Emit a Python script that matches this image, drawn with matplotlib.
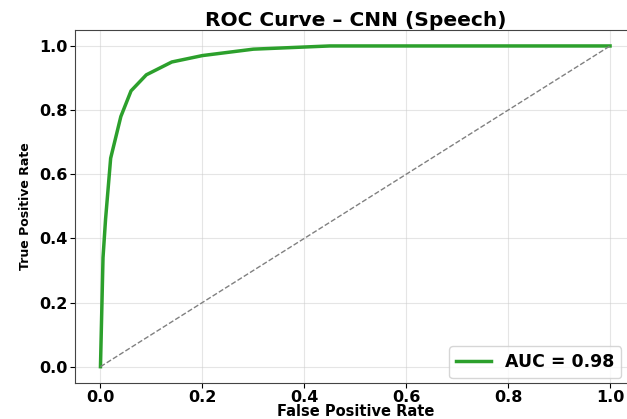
import numpy as np
import matplotlib
matplotlib.use('Agg')
import matplotlib.pyplot as plt

# ROC curve points
fpr = [0.0, 0.005, 0.01, 0.02, 0.04, 0.06, 0.09, 0.14, 0.20, 0.30, 0.45, 1.0]
tpr = [0.0, 0.34, 0.46, 0.65, 0.78, 0.86, 0.91, 0.95, 0.97, 0.99, 1.0, 1.0]
auc_label = 'AUC = 0.98'
ticks = [0.0, 0.2, 0.4, 0.6, 0.8, 1.0]

plt.rcParams['font.family'] = 'DejaVu Sans'
plt.rcParams['font.weight'] = 'bold'

fig = plt.figure(figsize=(6.27, 4.19), dpi=100)
ax = fig.add_axes([0.1196, 0.0866, 0.894, 0.842])

ax.plot(fpr, tpr, color='#2ca02c', lw=2.5, label=auc_label)
ax.plot([0, 1], [0, 1], color='gray', lw=1, ls='--')

ax.set_xlim(-0.05, 1.05)
ax.set_ylim(-0.05, 1.05)
ax.set_xticks(ticks)
ax.set_yticks(ticks)
ax.tick_params(labelsize=11.5, pad=2)
for lab in ax.get_xticklabels() + ax.get_yticklabels():
    lab.set_fontweight('bold')
ax.grid(True, color='#cccccc', alpha=0.5, lw=0.8)
for s in ax.spines.values():
    s.set_color('#444444')
ax.spines['right'].set_visible(False)

ax.set_title('ROC Curve – CNN (Speech)', fontsize=14.5, fontweight='bold', pad=3)
ax.set_xlabel('False Positive Rate', fontsize=10.5, fontweight='bold', labelpad=-1)
ax.set_ylabel('True Positive Rate', fontsize=9, fontweight='bold', labelpad=5)

leg = ax.legend(loc='lower right', bbox_to_anchor=(621 / 627, 41 / 419),
                bbox_transform=fig.transFigure, borderaxespad=0,
                prop={'weight': 'bold', 'size': 12.5}, handlelength=2.0)

fig.savefig('out.png', dpi=100)
